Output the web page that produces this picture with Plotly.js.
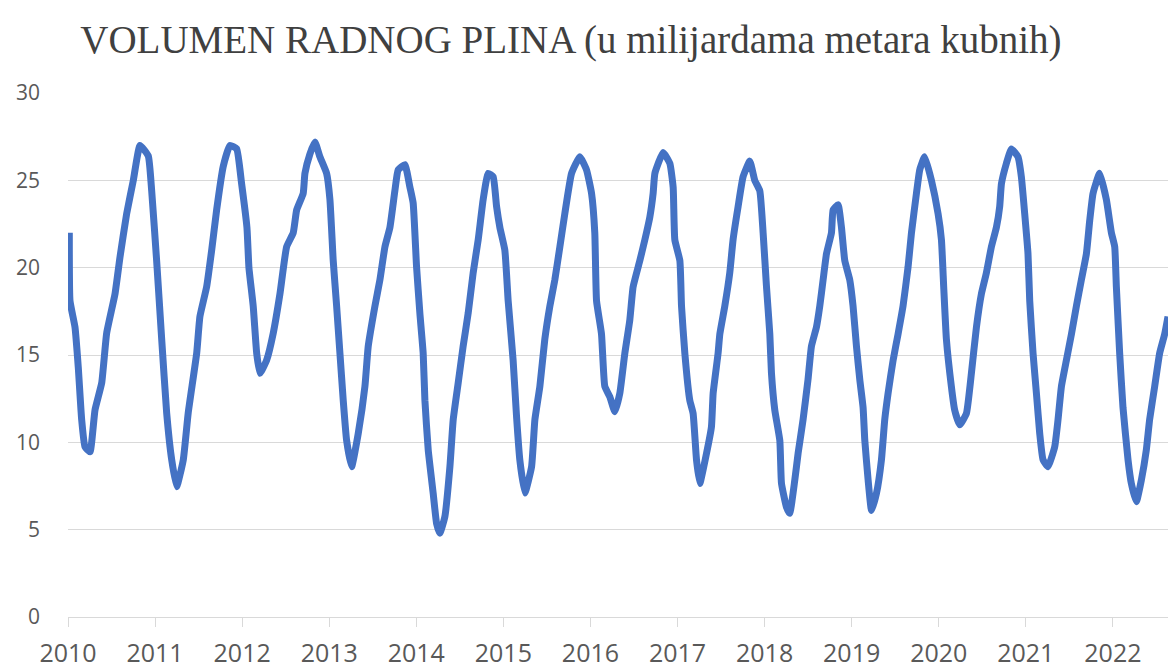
<!DOCTYPE html>
<html>
<head>
<meta charset="utf-8">
<script src="https://cdn.plot.ly/plotly-3.0.1.min.js"></script>
<style>html,body{margin:0;padding:0;background:#fff;}#chart{width:1170px;height:671px;}</style>
</head>
<body>
<div id="chart"></div>
<script>
// Time in decimal years
const timeYears = [
2010.015,2010.023,2010.080,2010.118,2010.157,2010.195,2010.253,2010.310,2010.387,2010.444,2010.540,2010.597,2010.674,2010.750,2010.827,2010.922,2010.961,
2011.018,2011.076,2011.133,2011.191,2011.248,2011.324,2011.381,2011.478,2011.515,2011.592,2011.650,2011.707,2011.783,2011.860,2011.937,2011.994,
2012.055,2012.078,2012.127,2012.167,2012.204,2012.281,2012.357,2012.434,2012.511,2012.587,2012.626,2012.701,2012.721,2012.778,2012.836,2012.893,2012.970,
2013.008,2013.046,2013.085,2013.123,2013.161,2013.200,2013.257,2013.333,2013.410,2013.448,2013.525,2013.582,2013.640,2013.697,2013.754,2013.792,2013.869,2013.927,2013.964,
2014.003,2014.041,2014.079,2014.099,2014.137,2014.194,2014.233,2014.271,2014.328,2014.386,2014.424,2014.481,2014.538,2014.596,2014.653,2014.711,2014.768,2014.825,2014.883,2014.922,2014.960,
2015.017,2015.055,2015.112,2015.151,2015.189,2015.247,2015.324,2015.362,2015.419,2015.476,2015.534,2015.591,2015.649,2015.706,2015.783,2015.878,2015.955,
2016.013,2016.050,2016.070,2016.127,2016.165,2016.223,2016.280,2016.337,2016.395,2016.452,2016.490,2016.567,2016.625,2016.682,2016.720,2016.740,2016.835,2016.912,2016.950,2016.969,
2017.027,2017.046,2017.084,2017.141,2017.179,2017.218,2017.256,2017.333,2017.390,2017.409,2017.466,2017.486,2017.543,2017.600,2017.638,2017.696,2017.753,2017.830,2017.887,2017.945,2017.983,
2018.022,2018.060,2018.079,2018.117,2018.175,2018.194,2018.251,2018.289,2018.347,2018.385,2018.442,2018.499,2018.538,2018.596,2018.634,2018.672,2018.711,2018.768,2018.787,2018.844,2018.883,2018.921,2018.978,
2019.016,2019.055,2019.093,2019.131,2019.151,2019.189,2019.228,2019.285,2019.342,2019.380,2019.418,2019.476,2019.533,2019.590,2019.648,2019.687,2019.744,2019.782,2019.839,2019.916,2019.992,
2020.031,2020.057,2020.088,2020.145,2020.183,2020.241,2020.318,2020.375,2020.433,2020.490,2020.547,2020.605,2020.662,2020.700,2020.720,2020.777,2020.834,2020.910,2020.949,2020.987,
2021.025,2021.045,2021.083,2021.122,2021.160,2021.198,2021.255,2021.332,2021.370,2021.409,2021.466,2021.524,2021.581,2021.638,2021.696,2021.734,2021.772,2021.848,2021.925,2021.983,
2022.021,2022.040,2022.078,2022.116,2022.174,2022.212,2022.270,2022.327,2022.384,2022.422,2022.480,2022.537,2022.595,2022.633
];

// Working gas volume, billion cubic metres
const gasVolume = [
22.0,18.1,16.6,14.3,11.3,9.75,9.46,11.85,13.4,16.25,18.5,20.6,23.1,25.0,27.0,26.4,24.4,
20.4,15.9,11.7,9.0,7.46,9.0,11.7,15.1,17.2,18.9,21.0,23.3,25.8,27.0,26.8,24.8,
22.3,20.0,17.8,15.1,13.95,14.7,16.25,18.5,21.2,22.0,23.3,24.25,25.4,26.5,27.2,26.35,25.4,
23.9,20.4,17.8,15.1,12.4,10.1,8.6,10.5,13.2,15.5,17.8,19.3,21.2,22.3,24.4,25.6,25.9,24.6,23.7,
20.05,17.4,15.1,12.4,9.56,7.08,5.36,4.8,5.74,8.6,11.3,13.4,15.5,17.4,19.7,21.6,23.9,25.4,25.2,23.5,22.3,
21.0,18.1,14.7,11.5,9.0,7.1,8.6,11.3,13.2,15.9,17.8,19.3,21.2,23.1,25.4,26.35,25.6,
24.25,22.0,18.1,16.2,13.2,12.6,11.75,12.8,15.1,17.0,18.9,20.4,21.6,22.9,24.25,25.4,26.6,25.97,24.6,21.6,
20.4,17.8,15.1,12.4,11.66,9.0,7.65,9.37,10.9,12.8,15.1,16.2,17.8,19.7,21.6,23.5,25.2,26.1,25.0,24.4,22.0,
18.9,16.2,13.95,11.85,10.1,7.65,6.3,5.94,7.84,9.37,11.3,13.6,15.5,16.6,17.8,19.3,20.8,22.0,23.3,23.6,22.3,20.4,19.3,
17.8,15.5,13.6,12.0,10.1,7.84,6.1,7.08,9.0,11.3,12.8,14.7,16.2,17.8,20.05,22.0,24.25,25.6,26.35,25.0,23.1,
21.6,18.9,15.9,13.2,11.85,11.0,11.66,13.95,16.6,18.5,19.7,21.2,22.3,23.5,24.8,25.97,26.8,26.35,25.2,23.1,
20.8,18.1,15.1,12.8,10.5,9.0,8.6,9.75,11.3,13.2,14.7,16.2,17.8,19.3,20.8,22.7,24.25,25.4,23.9,22.0,
21.2,18.9,15.1,12.0,9.0,7.65,6.6,7.84,9.56,11.3,13.2,15.1,16.2,17.2
];

const yearTicks = [2010,2011,2012,2013,2014,2015,2016,2017,2018,2019,2020,2021,2022];
const yearLabels = ["2010","2011","2012","2013","2014","2015","2016","2017","2018","2019","2020","2021","2022"];
const yTicks = [0,5,10,15,20,25,30];

const trace = {
  x: timeYears, y: gasVolume, type: 'scatter', mode: 'lines',
  line: {color: '#4472C4', width: 7, shape: 'spline', smoothing: 0.4},
  hoverinfo: 'skip'
};

const layout = {
  width: 1170, height: 671,
  paper_bgcolor: '#ffffff', plot_bgcolor: '#ffffff',
  margin: {l: 68, r: 2, t: 93, b: 54, pad: 0},
  showlegend: false,
  title: {
    text: 'VOLUMEN RADNOG PLINA (u milijardama metara kubnih)',
    font: {family: 'Liberation Serif, Times New Roman, serif', size: 39, color: '#404040'},
    xref: 'container', x: 0.488, xanchor: 'center',
    yref: 'container', y: 1 - 39/671, yanchor: 'middle'
  },
  xaxis: {
    range: [2010, 2022.633], tickmode: 'array', tickvals: yearTicks, ticktext: yearLabels,
    showgrid: false, zeroline: false,
    showline: true, linecolor: '#d9d9d9', linewidth: 1,
    ticks: 'outside', ticklen: 9, tickcolor: '#d9d9d9', tickwidth: 1,
    tickfont: {family: 'Open Sans, sans-serif', size: 25, color: '#595959'},
    ticklabelstandoff: 5, fixedrange: true
  },
  yaxis: {
    range: [0, 30], tickmode: 'array', tickvals: yTicks,
    showgrid: true, gridcolor: '#d9d9d9', gridwidth: 1,
    zeroline: false, showline: false, ticks: '',
    tickfont: {family: 'Open Sans, sans-serif', size: 21, color: '#595959'},
    ticklabelstandoff: 27, fixedrange: true
  }
};

Plotly.newPlot('chart', [trace], layout, {displayModeBar: false, staticPlot: true});
</script>
</body>
</html>
